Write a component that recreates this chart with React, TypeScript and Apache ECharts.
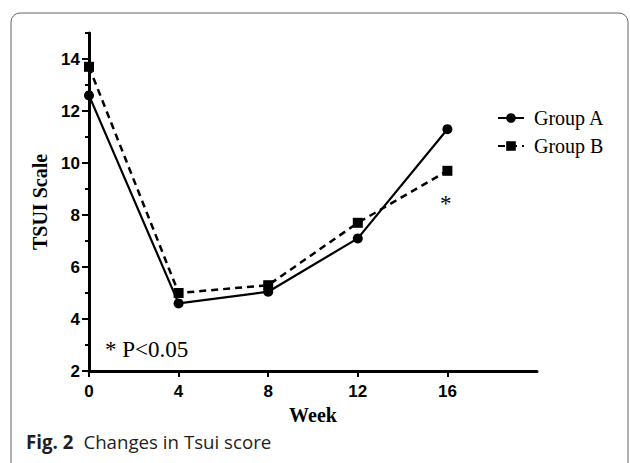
import React, { useEffect, useRef } from "react";
import * as echarts from "echarts";

const weeks = [0, 4, 8, 12, 16];
const groupA = [12.6, 4.6, 5.05, 7.1, 11.3];
const groupB = [13.7, 5.0, 5.3, 7.7, 9.7];
const xTicks = [0, 4, 8, 12, 16];
const yTicks = [2, 4, 6, 8, 10, 12, 14];
const yMinorTicks = [3, 5, 7, 9, 11, 13, 15];
const seriesNames = ["Group A", "Group B"];

const SERIF = "'Liberation Serif', 'Times New Roman', serif";
const SANS = "'Liberation Sans', Arial, sans-serif";

export default function App() {
  const ref = useRef<HTMLDivElement>(null);
  useEffect(() => {
    if (!ref.current) return;
    const chart = echarts.init(ref.current, null, { renderer: "svg" });
    const axisLine = { lineStyle: { color: "#000", width: 3 } };
    chart.setOption({
      animation: false,
      backgroundColor: "#fff",
      grid: { left: 89, right: 93, top: 33, bottom: 92, containLabel: false },
      legend: {
        orient: "vertical",
        left: 492,
        top: 103,
        itemWidth: 26,
        itemHeight: 12,
        itemGap: 8,
        data: seriesNames,
        textStyle: { fontFamily: SERIF, fontSize: 20, color: "#000", padding: [0, 0, 0, 5] },
      },
      xAxis: {
        type: "value",
        min: 0,
        max: 20,
        interval: 4,
        name: "Week",
        nameLocation: "middle",
        nameGap: 34,
        nameTextStyle: { fontFamily: SERIF, fontWeight: "bold", fontSize: 20, color: "#000" },
        axisLine,
        splitLine: { show: false },
        axisTick: { show: true, length: 6, lineStyle: { width: 2, color: "#000" }, customValues: xTicks },
        axisLabel: { fontFamily: SANS, fontWeight: "bold", fontSize: 17, color: "#000", margin: 12, customValues: xTicks },
      },
      yAxis: [
        {
          type: "value",
          min: 2,
          max: 15,
          interval: 2,
          name: "TSUI Scale",
          nameLocation: "middle",
          nameGap: 33,
          nameTextStyle: { fontFamily: SERIF, fontWeight: "bold", fontSize: 20, color: "#000" },
          axisLine,
          splitLine: { show: false },
          axisTick: { show: true, length: 7, lineStyle: { width: 2, color: "#000" }, customValues: yTicks },
          axisLabel: { fontFamily: SANS, fontWeight: "bold", fontSize: 17, color: "#000", margin: 9, customValues: yTicks },
        },
        {
          type: "value",
          min: 2,
          max: 15,
          position: "left",
          axisLine: { show: false },
          splitLine: { show: false },
          axisTick: { show: true, length: 4, lineStyle: { width: 2, color: "#000" }, customValues: yMinorTicks },
          axisLabel: { show: false },
        },
      ],
      series: [
        {
          name: seriesNames[0],
          type: "line",
          data: weeks.map((w, i) => [w, groupA[i]]),
          symbol: "circle",
          symbolSize: 10,
          itemStyle: { color: "#000" },
          lineStyle: { color: "#000", width: 2.2 },
          z: 3,
        },
        {
          name: seriesNames[1],
          type: "line",
          data: weeks.map((w, i) => [w, groupB[i]]),
          symbol: "rect",
          symbolSize: 10,
          itemStyle: { color: "#000" },
          lineStyle: { color: "#000", width: 2.5, type: [7, 5] },
          z: 2,
        },
      ],
      graphic: [
        {
          type: "rect",
          shape: { x: 11, y: 13, width: 617, height: 470, r: 9 },
          style: { fill: "none", stroke: "#666", lineWidth: 1 },
          silent: true,
        },
        {
          type: "text",
          left: 105,
          top: 338,
          style: { text: "* P<0.05", fontFamily: SERIF, fontSize: 23, fill: "#000" },
        },
        {
          type: "text",
          left: 440,
          top: 192,
          style: { text: "*", fontFamily: SERIF, fontSize: 23, fill: "#000" },
        },
        {
          type: "text",
          left: 26,
          top: 432,
          style: {
            text: "{b|Fig. 2}   {n|Changes in Tsui score}",
            rich: {
              b: { fontFamily: "'Open Sans', sans-serif", fontWeight: "bold", fontSize: 18.7, fill: "#231f20" },
              n: { fontFamily: "'Open Sans', sans-serif", fontSize: 18.7, fill: "#231f20" },
            },
          },
        },
      ],
    });
    return () => chart.dispose();
  }, []);
  return <div ref={ref} style={{ position: "fixed", left: 0, top: 0, width: 630, height: 463 }} />;
}
